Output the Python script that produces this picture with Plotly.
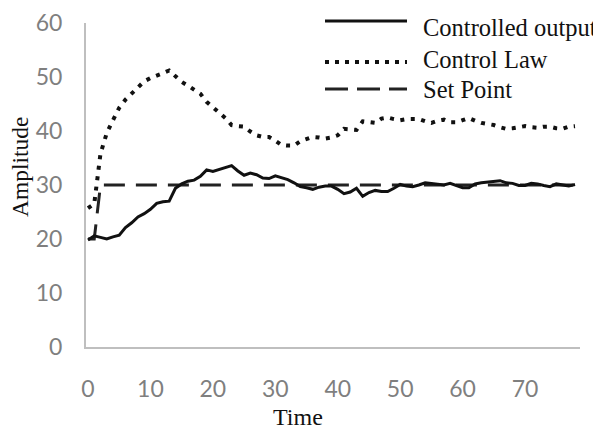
import plotly.graph_objects as go

# ---- data ----
time = list(range(0, 79))

controlled_output = [
    19.8, 20.6, 20.3, 20.0, 20.4, 20.7, 22.1, 23.0, 24.1, 24.7,
    25.5, 26.6, 26.9, 27.0, 29.4, 30.2, 30.7, 30.9, 31.6, 32.8,
    32.5, 32.9, 33.2, 33.6, 32.6, 31.8, 32.2, 31.9, 31.3, 31.2,
    31.7, 31.4, 31.0, 30.4, 29.7, 29.5, 29.2, 29.6, 29.8, 29.8,
    29.2, 28.4, 28.7, 29.4, 27.9, 28.6, 29.0, 28.8, 28.8, 29.4,
    30.1, 29.8, 29.7, 30.0, 30.4, 30.3, 30.1, 30.0, 30.3, 29.9,
    29.5, 29.5, 30.2, 30.4, 30.5, 30.6, 30.8, 30.4, 30.3, 29.9,
    29.9, 30.3, 30.2, 29.9, 29.7, 30.2, 30.0, 29.8, 30.1,
]

control_law = [
    25.7, 26.5, 35.8, 39.6, 42.0, 44.3, 45.8, 47.0, 48.2, 49.2,
    49.8, 50.2, 50.7, 51.2, 50.2, 49.1, 48.4, 47.7, 46.9, 45.4,
    44.5, 43.4, 42.4, 41.1, 40.9, 40.8, 39.9, 39.2, 38.9, 38.9,
    38.2, 37.4, 37.3, 37.3, 38.1, 38.6, 38.9, 38.8, 38.6, 38.8,
    39.2, 40.4, 40.3, 40.2, 41.8, 41.6, 41.5, 42.3, 42.5, 42.2,
    42.0, 42.2, 42.2, 42.2, 41.8, 41.5, 41.9, 42.1, 41.6, 41.6,
    42.0, 42.4, 41.9, 41.5, 41.3, 41.1, 40.7, 40.4, 40.5, 40.7,
    40.9, 40.7, 40.6, 40.8, 40.8, 40.5, 40.4, 40.8, 40.9,
]

setpoint_time = [0, 1, 2, 78]
setpoint_values = [20, 20, 30, 30]

x_ticks = [0, 10, 20, 30, 40, 50, 60, 70]
y_ticks = [0, 10, 20, 30, 40, 50, 60]

legend_names = ["Controlled output", "Control Law", "Set Point"]

# ---- figure ----
# the page body adds an 8px margin, so the figure is placed at (8, 8)
OFF = 8
W, H = 601 - OFF, 435 - OFF
PLOT_L, PLOT_R, PLOT_T, PLOT_B = 86, 580, 23, 347   # target screen pixels
ML, MR = PLOT_L - OFF, (W + OFF) - PLOT_R
MT, MB = PLOT_T - OFF, (H + OFF) - PLOT_B
PW, PH = PLOT_R - PLOT_L, PLOT_B - PLOT_T

def px_x(p):
    return (p - PLOT_L) / PW

def px_y(p):
    return (PLOT_B - p) / PH

serif = "Liberation Serif, Times New Roman, serif"
sans = "Lato, Open Sans, sans-serif"

fig = go.Figure()
fig.add_trace(go.Scatter(x=time, y=control_law, mode="lines", name=legend_names[1],
                         line=dict(color="#111111", width=4, dash="4px,6.5px"),
                         showlegend=False))
fig.add_trace(go.Scatter(x=setpoint_time, y=setpoint_values, mode="lines", name=legend_names[2],
                         line=dict(color="#222222", width=3, dash="21px,11px"),
                         showlegend=False))
fig.add_trace(go.Scatter(x=time, y=controlled_output, mode="lines", name=legend_names[0],
                         line=dict(color="#111111", width=3),
                         showlegend=False))

# custom legend (long line samples like the reference)
rows = [(21, 27, dict(color="#111111", width=3)),
        (62, 59, dict(color="#111111", width=4, dash="4px,6px")),
        (89, 89, dict(color="#222222", width=3, dash="23px,9px"))]
shapes = []
annotations = []
for name, (ly, ty, ln) in zip(legend_names, rows):
    shapes.append(dict(type="line", xref="paper", yref="paper",
                       x0=px_x(325), x1=px_x(407), y0=px_y(ly), y1=px_y(ly), line=ln))
    annotations.append(dict(text=name, xref="paper", yref="paper", x=px_x(421), y=px_y(ty),
                            xanchor="left", yanchor="middle", showarrow=False,
                            font=dict(family=serif, size=24.5, color="#111111")))

annotations.append(dict(text="Time", xref="paper", yref="paper", x=px_x(298), y=px_y(417),
                        xanchor="center", yanchor="middle", showarrow=False,
                        font=dict(family=serif, size=24, color="#111111")))
annotations.append(dict(text="Amplitude", xref="paper", yref="paper", x=px_x(20), y=px_y(167),
                        xanchor="center", yanchor="middle", showarrow=False, textangle=-90,
                        font=dict(family=serif, size=23.5, color="#111111")))

fig.update_layout(
    width=W, height=H,
    margin=dict(l=ML, r=MR, t=MT, b=MB, pad=0, autoexpand=False),
    paper_bgcolor="white", plot_bgcolor="white",
    showlegend=False,
    shapes=shapes, annotations=annotations,
    xaxis=dict(range=[-0.32, 78.8], tickvals=x_ticks, ticktext=[str(v) for v in x_ticks],
               showgrid=False, zeroline=False, showline=True, linecolor="#bfbfbf", linewidth=2,
               ticks="", ticklabelstandoff=20, automargin=False,
               tickfont=dict(family=sans, size=23, color="#7f7f7f")),
    yaxis=dict(range=[0, 60], tickvals=y_ticks, ticktext=[str(v) for v in y_ticks],
               showgrid=False, zeroline=False, showline=True, linecolor="#bfbfbf", linewidth=2,
               ticks="", ticklabelstandoff=17, automargin=False,
               tickfont=dict(family=sans, size=23, color="#7f7f7f")),
)

fig.write_html("out.html")
